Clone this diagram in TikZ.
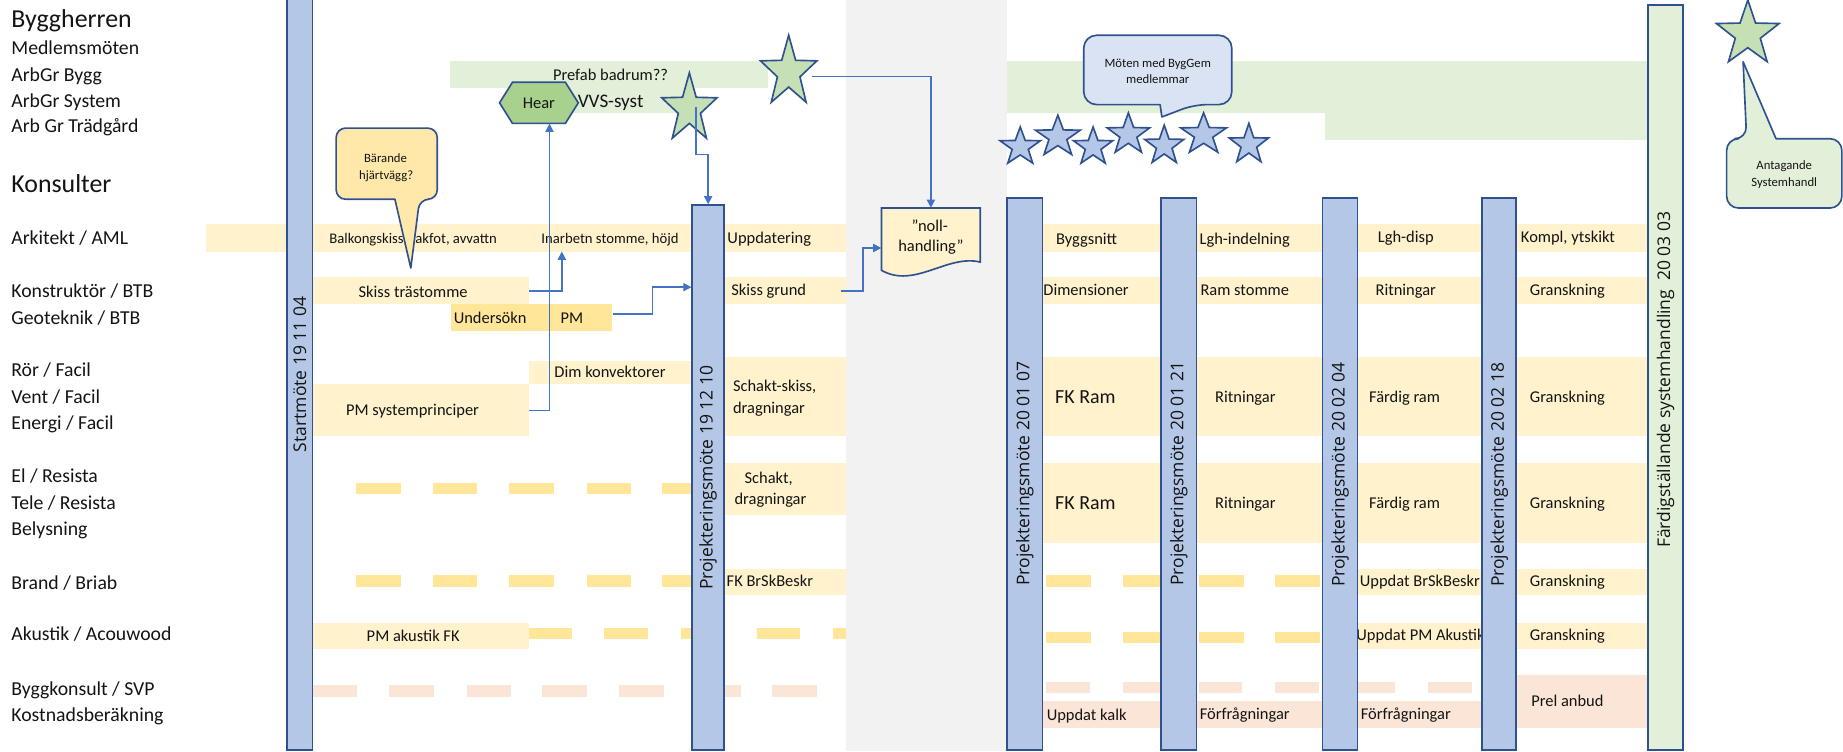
\documentclass[tikz,border=0pt]{standalone}
\usepackage{fontspec}
\setmainfont{Carlito}
\newfontfamily\barfont{Open Sans}
\usetikzlibrary{arrows.meta,calc}

\definecolor{barfill}{HTML}{B4C7E7}
\definecolor{barline}{HTML}{2F528F}
\definecolor{lyel}{HTML}{FFF2CC}
\definecolor{gold}{HTML}{FFE699}
\definecolor{pinkband}{HTML}{FBE5D6}
\definecolor{lgreen}{HTML}{E2F0D9}
\definecolor{lgray}{HTML}{F2F2F2}
\definecolor{stargreen}{HTML}{C5E0B4}
\definecolor{hexgreen}{HTML}{A9D18E}
\definecolor{connc}{HTML}{4472C4}
\definecolor{bubyel}{HTML}{FFE8AA}
\definecolor{bubblue}{HTML}{DAE3F3}
\definecolor{ink}{HTML}{141414}

\newcommand\fs[2]{\fontsize{#1}{#2}\selectfont}
\newcommand\sq{{\char34}}
% five-pointed star: style, centre x, centre y, x radius, y radius
\newcommand\fivestar[5]{\filldraw[#1,shift={(#2,#3)},xscale=#4,yscale=#5]
  (270:1) -- (306:0.4) -- (342:1) -- (18:0.4) -- (54:1) -- (90:0.4)
  -- (126:1) -- (162:0.4) -- (198:1) -- (234:0.4) -- cycle;}

\begin{document}
\begin{tikzpicture}[x=1pt,y=-1pt,
  lab/.style={anchor=base west, inner sep=0, text=ink, font=\fs{16.8}{20}},
  head/.style={anchor=base west, inner sep=0, text=ink, font=\fs{22}{26}},
  tx/.style={anchor=base, inner sep=0, text=ink, font=\fs{14}{17}},
  txw/.style={anchor=base west, inner sep=0, text=ink, font=\fs{14}{17}},
  txs/.style={anchor=base, inner sep=0, text=ink, font=\fs{12.5}{15}},
  txl/.style={anchor=base, inner sep=0, text=ink, font=\fs{17}{20}},
  txc/.style={anchor=base, inner sep=0, text=ink, font=\fs{10.8}{13}},
  boxn/.style={inner sep=0, draw=none},
  bar/.style={draw=barline, line width=1.4pt, fill=barfill, inner sep=0},
  barlab/.style={rotate=90, inner sep=0, text=ink, font=\barfont\fs{14.9}{18}},
  callout/.style={draw=barline, line width=1.4pt, line join=round},
  starsty/.style={draw=barline, line width=1.4pt, line join=miter},
  conn/.style={draw=connc, line width=1.2pt, -{Triangle[length=7pt,width=7pt]}}
]
\useasboundingbox (0,0) rectangle (1568,639);

% ---------- background bands ----------
\fill[lgray] (720,0) rectangle (857,639);

\fill[lgreen] (383,52) rectangle (653,75);
\fill[lgreen] (470,75) rectangle (582,96.5);
\fill[lgreen] (857,52) rectangle (1402,96.5);
\fill[lgreen] (1127,96.5) rectangle (1402,119.5);

\fill[lyel] (175,191) rectangle (720,214);
\fill[lyel] (857,191) rectangle (1402,214);
\node[boxn, fill=lyel, minimum width=184, minimum height=23] (skiss) at (358,247.5) {};
\node[boxn, fill=lyel, minimum width=104, minimum height=23] (sgrund) at (668,247.5) {};
\fill[lyel] (857,236) rectangle (1402,259);
\node[boxn, fill=gold, minimum width=137, minimum height=23] (geo) at (452.5,270.5) {};
\fill[lyel] (450,307.5) rectangle (589,327);
\node[boxn, fill=lyel, minimum width=184, minimum height=44] (pmsys) at (358,349) {};
\fill[lyel] (616,303.5) rectangle (720,371);
\fill[lyel] (857,303.5) rectangle (1402,371);
\fill[lyel] (616,394) rectangle (720,438);
\fill[lyel] (857,394) rectangle (1402,462);
\fill[lyel] (616,484) rectangle (720,506.5);
\fill[lyel] (1155,484) rectangle (1402,506.5);
\fill[lyel] (266,530) rectangle (450,552);
\fill[lyel] (1155,530) rectangle (1402,552);
\fill[pinkband] (857,596) rectangle (1261,619.5);
\fill[pinkband] (1290,574) rectangle (1402,619.5);

% ---------- dashed activity rows ----------
\foreach \x in {303,368,433,499,563} {
  \fill[gold] (\x,410.6) rectangle ++(38,9.7);
  \fill[gold] (\x,489) rectangle ++(38,10);
}
\foreach \x in {450,514,579,644} {\fill[gold] (\x,534.5) rectangle ++(37,9.5);}
\fill[gold] (709,534.5) rectangle (720,544);
\foreach \x in {266,331,397,461,527,592,657} {\fill[pinkband] (\x,583) rectangle ++(38,10);}
\foreach \x in {890,955,1020,1085} {
  \fill[gold] (\x,489) rectangle ++(38,10);
  \fill[gold] (\x,537.5) rectangle ++(38,9.5);
}
\foreach \x in {890,955,1020,1085,1150,1215} {\fill[pinkband] (\x,580) rectangle ++(37,10);}

% ---------- row labels ----------
\node[head] (lByg) at (9.5,23.6) {Byggherren};
\node[lab] (lMed) at (9.5,46.1) {Medlemsmöten};
\node[lab] (lAB) at (9.5,69.1) {ArbGr Bygg};
\node[lab] (lAS) at (9.5,91.6) {ArbGr System};
\node[lab] (lAT) at (9.5,113.1) {Arb Gr Trädgård};
\node[head] (lKon) at (9.5,163.6) {Konsulter};
\node[lab] (lArk) at (9.5,207.9) {Arkitekt / AML};
\node[lab] (lKstr) at (9.5,253.3) {Konstruktör / BTB};
\node[lab] (lGeo) at (9.5,275.9) {Geoteknik / BTB};
\node[lab] (lRor) at (9.5,320.7) {Rör / Facil};
\node[lab] (lVent) at (9.5,343.1) {Vent / Facil};
\node[lab] (lEn) at (9.5,365.8) {Energi / Facil};
\node[lab] (lEl) at (9.5,410.6) {El / Resista};
\node[lab] (lTele) at (9.5,433.3) {Tele / Resista};
\node[lab] (lBel) at (9.5,456) {Belysning};
\node[lab] (lBr) at (9.5,501.4) {Brand / Briab};
\node[lab] (lAk) at (9.5,545.3) {Akustik / Acouwood};
\node[lab] (lBk) at (9.5,591.6) {Byggkonsult / SVP};
\node[lab] (lKost) at (9.5,614) {Kostnadsberäkning};

% ---------- activity texts ----------
\node[tx] (tPrefab) at (519.5,68.7) {Prefab badrum??};
\node[anchor=base, inner sep=0, text=ink, font=\fs{16.3}{19}] (tVVS) at (519.5,91.4) {VVS-syst};

\node[txs] (tBalk) at (351.5,206.8) {Balkongskiss, takfot, avvattn};
\node[txs] (tInarb) at (519,206.8) {Inarbetn stomme, höjd};
\node[tx] (tUpp) at (654.5,207.4) {Uppdatering};
\node[tx] (tSkiss) at (351.5,252.7) {Skiss trästomme};
\node[tx] (tUnd) at (417,275.2) {Undersökn};
\node[tx] (tPM) at (486.5,275.2) {PM};
\node[tx] (tDim) at (519,321.2) {Dim konvektorer};
\node[tx] (tPMs) at (351,353.2) {PM systemprinciper};
\node[tx] (tSgr) at (654,251.5) {Skiss grund};
\node[txw] (tSch1) at (623.5,333.2) {Schakt-skiss,};
\node[txw] (tSch2) at (623.5,351.6) {dragningar};
\node[tx] (tSk1) at (654,411.2) {Schakt,};
\node[tx] (tSk2) at (655.5,429.6) {dragningar};
\node[tx] (tFKBr) at (655,499.2) {FK BrSkBeskr};
\node[tx] (tPMak) at (351.5,545.9) {PM akustik FK};

\node[tx] (tBsn) at (924.5,208.2) {Byggsnitt};
\node[tx] (tLgh) at (1059,208.2) {Lgh-indelning};
\node[tx] (tLghd) at (1196,206.7) {Lgh-disp};
\node[tx] (tKompl) at (1334,206.7) {Kompl, ytskikt};
\node[tx] (tDimen) at (924,251.7) {Dimensioner};
\node[tx] (tRam) at (1059,251.7) {Ram stomme};
\node[tx] (tRit1) at (1196,251.7) {Ritningar};
\node[tx] (tGr1) at (1333.5,251.7) {Granskning};
\node[txl] (tFK1) at (923.5,343.1) {FK Ram};
\node[tx] (tRit2) at (1059.5,342.2) {Ritningar};
\node[tx] (tFr1) at (1195,342.2) {Färdig ram};
\node[tx] (tGr2) at (1333.5,342.2) {Granskning};
\node[txl] (tFK2) at (923.5,433.1) {FK Ram};
\node[tx] (tRit3) at (1059.5,432.2) {Ritningar};
\node[tx] (tFr2) at (1195,432.2) {Färdig ram};
\node[tx] (tGr3) at (1333.5,432.2) {Granskning};
\node[tx] (tUBr) at (1208,499.2) {Uppdat BrSkBeskr};
\node[tx] (tGr4) at (1333.5,499.2) {Granskning};
\node[tx] (tUAk) at (1208.5,544.7) {Uppdat PM Akustik};
\node[tx] (tGr5) at (1333.5,544.7) {Granskning};
\node[tx] (tKalk) at (924.5,613.2) {Uppdat kalk};
\node[tx] (tForf1) at (1059,612.2) {Förfrågningar};
\node[tx] (tForf2) at (1196,612.2) {Förfrågningar};
\node[tx] (tPrel) at (1333.5,601.2) {Prel anbud};

% ---------- meeting bars ----------
\node[bar, minimum width=22, minimum height=643] (p0) at (255,316.5) {};
\node[bar, minimum width=27, minimum height=463.5] (p1) at (602.5,406.25) {};
\node[bar, minimum width=30, minimum height=469.5] (p2) at (872,403.25) {};
\node[bar, minimum width=30, minimum height=469.5] (p3) at (1003,403.25) {};
\node[bar, minimum width=30, minimum height=469.5] (p4) at (1140,403.25) {};
\node[bar, minimum width=29, minimum height=469.5] (p5) at (1275.5,403.25) {};
\node[bar, fill=lgreen, minimum width=30, minimum height=634] (p6) at (1417,321) {};

\node[barlab] (p0lab) at (255,318.5) {Startmöte 19 11 04};
\node[barlab] (p1lab) at (602.5,406.5) {Projekteringsmöte 19 12 10};
\node[barlab] (p2lab) at (872,403) {Projekteringsmöte 20 01 07};
\node[barlab] (p3lab) at (1003,403) {Projekteringsmöte 20 01 21};
\node[barlab] (p4lab) at (1140,404) {Projekteringsmöte 20 02 04};
\node[barlab] (p5lab) at (1275.5,404) {Projekteringsmöte 20 02 18};
\node[barlab] (p6lab) at (1417,323) {Färdigställande systemhandling\ \ 20 03 03};

% ---------- callouts ----------
\filldraw[callout, fill=bubyel] (286,139) [rounded corners=8pt] -- (286,109) -- (372,109)
  -- (372,169.5) -- (357,169.5) [sharp corners] -- (349.5,228) -- (336,169.5)
  [rounded corners=8pt] -- (286,169.5) -- cycle;
\node[txc] (cB1) at (328,138) {Bärande};
\node[txc] (cB2) at (328.5,152.3) {hjärtvägg?};

\filldraw[callout, fill=bubblue] (922,60) [rounded corners=11pt] -- (922,30) -- (1048,30)
  -- (1048,89) -- (1016,89) [sharp corners] -- (988.5,99.5) -- (987,89)
  [rounded corners=11pt] -- (922,89) -- cycle;
\node[txc] (cM1) at (985,57.1) {Möten med BygGem};
\node[txc] (cM2) at (985,70.7) {medlemmar};

\filldraw[callout, fill=lgreen] (1469,148) [rounded corners=10pt] -- (1469,118) -- (1486,118)
  [sharp corners] -- (1483,52.5) -- (1511,118) [rounded corners=10pt] -- (1567,118)
  -- (1567,177) -- (1469,177) -- cycle;
\node[txc] (cA1) at (1518,144.3) {Antagande};
\node[txc] (cA2) at (1518,158.7) {Systemhandl};

% ---------- "noll-handling" document ----------
\filldraw[callout, fill=lyel, line join=miter] (750,177) -- (834,177) -- (834,223)
  .. controls (806,216) and (778,246) .. (750,230) -- cycle;
\node[boxn, minimum width=84, minimum height=49] (noll) at (792,201.5) {};
\node[tx] (nl1) at (791,197.2) {\sq noll-};
\node[tx] (nl2) at (792,214.2) {handling\sq};

% ---------- "Hear" hexagon ----------
\filldraw[callout, fill=hexgreen, line join=miter] (425,87.5) -- (436,70) -- (481,70)
  -- (492,87.5) -- (481,105) -- (436,105) -- cycle;
\node[boxn, minimum width=67, minimum height=35, text=ink, font=\fs{14}{17}] (hear) at (458.5,87.5) {Hear};

% ---------- stars ----------
\fivestar{starsty, fill=stargreen}{671}{61.5}{25.2}{31.5}
\fivestar{starsty, fill=stargreen}{586.5}{92.7}{24.7}{30.7}
\fivestar{starsty, fill=stargreen}{1487}{29}{28}{29}
\coordinate (star1) at (671,61.5);
\coordinate (star2) at (586.5,92.7);

\fivestar{starsty, fill=barfill}{868}{125}{18}{17}
\fivestar{starsty, fill=barfill}{900}{116.5}{20}{18.5}
\fivestar{starsty, fill=barfill}{930}{125}{17.5}{17}
\fivestar{starsty, fill=barfill}{960}{114.5}{19}{18.5}
\fivestar{starsty, fill=barfill}{990.5}{124}{17.5}{17.5}
\fivestar{starsty, fill=barfill}{1024}{114.5}{20.5}{18.5}
\fivestar{starsty, fill=barfill}{1062.5}{123}{17.5}{18}

% ---------- connectors ----------
\coordinate (arkIn) at (478,214);
\draw[conn] (pmsys.east) -| ($(hear.south)+(9,0)$);
\draw[conn] (skiss.east) -| (arkIn);
\draw[conn] ([yshift=3.5pt]geo.east) -- ++(34,0) |- ([yshift=-70.5pt]p1.north west);
\draw[conn] ([xshift=-5pt]sgrund.east) -- ++(19,0) |- ([yshift=-9.5pt]noll.west);
\draw[conn] ([xshift=20pt,yshift=-3.5pt]star1) -| (noll.north);
\draw[conn] ([xshift=5.5pt,yshift=1.5pt]star2) -- ++(0,40) -| (p1.north);

\end{tikzpicture}
\end{document}
